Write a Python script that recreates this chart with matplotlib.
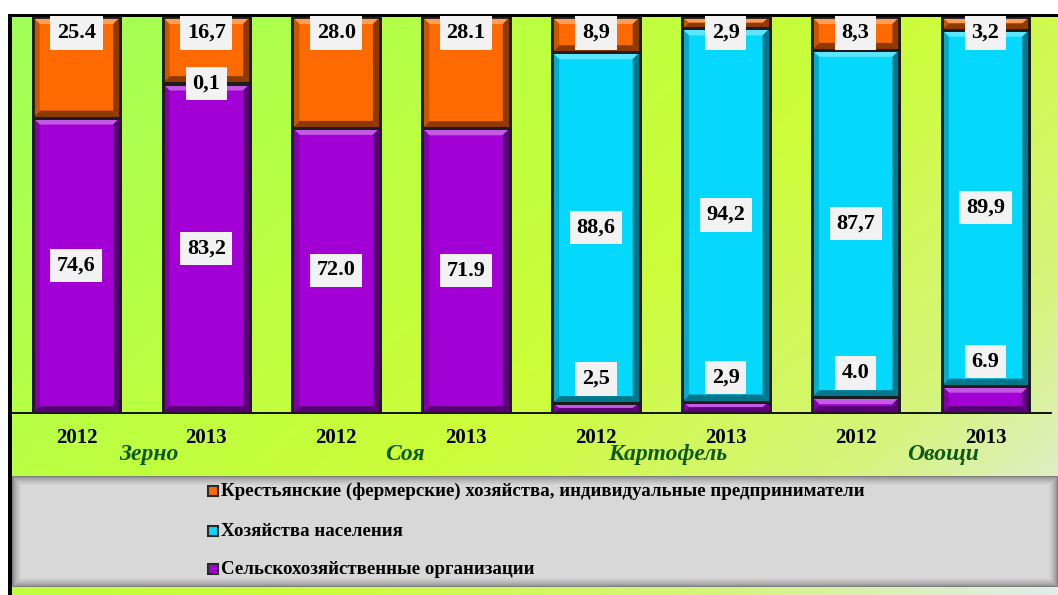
import numpy as np
import matplotlib
matplotlib.use("Agg")
import matplotlib.pyplot as plt
from matplotlib import patches
from matplotlib.colors import LinearSegmentedColormap, to_rgb

# data
crops = ["Зерно", "Соя", "Картофель", "Овощи"]
years = ["2012", "2013", "2012", "2013", "2012", "2013", "2012", "2013"]
org = [74.6, 83.2, 72.0, 71.9, 2.5, 2.9, 4.0, 6.9]
pop = [0.0, 0.1, 0.0, 0.0, 88.6, 94.2, 87.7, 89.9]
farm = [25.4, 16.7, 28.0, 28.1, 8.9, 2.9, 8.3, 3.2]
org_lbl = ["74,6", "83,2", "72.0", "71.9", "2,5", "2,9", "4.0", "6.9"]
pop_lbl = [None, "0,1", None, None, "88,6", "94,2", "87,7", "89,9"]
farm_lbl = ["25.4", "16,7", "28.0", "28.1", "8,9", "2,9", "8,3", "3,2"]
names = ["Крестьянские (фермерские) хозяйства, индивидуальные предприниматели",
         "Хозяйства населения",
         "Сельскохозяйственные организации"]

C_FARM, C_POP, C_ORG = "#ff6a00", "#04d8fc", "#a300d6"
crop_shift = [0.06, 0.03, 0.05, 0.17]  # hand placed category captions

W, H = 1058, 595
SERIF = ["Liberation Serif", "DejaVu Serif"]
fig = plt.figure(figsize=(W / 100, H / 100), dpi=100)

# background gradient
bg = fig.add_axes([0, 0, 1, 1])
bg.set_axis_off()
xx, yy = np.meshgrid(np.linspace(0, 1, 400), np.linspace(0, 1, 240))
t = np.clip(0.62 * xx + 0.38 * yy, 0, 1)
cmap = LinearSegmentedColormap.from_list("bg", [(0, "#9eff5a"), (0.35, "#bdff40"),
                                                (0.55, "#ccfd38"), (0.8, "#d6f47c"),
                                                (1.0, "#e2ecec")])
bg.imshow(t, cmap=cmap, aspect="auto", extent=[0, 1, 0, 1], origin="upper")
bg.set_xlim(0, 1)
bg.set_ylim(0, 1)
# white margins and black frame
bg.add_patch(patches.Rectangle((0, 1 - 14 / H), 1, 14 / H, color="white", lw=0))
bg.add_patch(patches.Rectangle((0, 0), 8 / W, 1, color="white", lw=0))
bg.add_patch(patches.Rectangle((8 / W, 1 - 17 / H), 1, 3 / H, color="black", lw=0))
bg.add_patch(patches.Rectangle((8 / W, 0), 4 / W, 1 - 14 / H, color="black", lw=0))

# legend panel with shaded border
lg = fig.add_axes([12 / W, 8 / H, (W - 12) / W, 111 / H])
lg.set_axis_off()
lx = np.arange(W - 12)
ly = np.arange(111)
dx = np.minimum(lx, lx[::-1])[None, :]
dy = np.minimum(ly, ly[::-1])[:, None]
d = np.minimum(np.minimum(dx, 40), dy).astype(float)
g = 0.5 + 0.35 * np.clip(d / 9, 0, 1) ** 0.6
lg.imshow(np.dstack([g, g, g]), aspect="auto", extent=[0, 1, 0, 1])
lg.set_xlim(0, 1)
lg.set_ylim(0, 1)

ax = fig.add_axes([11.5 / W, 1 - 413 / H, 1039 / W, 396 / H])
ax.patch.set_alpha(0)
x = np.arange(len(years))
bw = 0.674
ax.set_xlim(-0.5, 7.5)
ax.set_ylim(0, 100)
for s in ["top", "right", "left"]:
    ax.spines[s].set_visible(False)
ax.spines["bottom"].set_linewidth(1.3)
ax.set_xticks([])
ax.set_yticks([])

org_a = np.array(org)
pop_a = np.array(pop)
farm_a = np.array(farm)
layers = [(org_a, np.zeros(8), C_ORG), (pop_a, org_a, C_POP), (farm_a, org_a + pop_a, C_FARM)]
px_x = 129.9
px_y = 3.96


def bevel(x0, y0, w, h, col):
    bx = min(7 / px_x, w / 2)
    by = min(7 / px_y, h / 2)
    x1, y1 = x0 + w, y0 + h
    base = np.array(to_rgb(col))
    light = tuple(base + (1 - base) * 0.35)
    dark = tuple(base * 0.55)
    mid = tuple(base * 0.8)
    polys = [([(x0, y1), (x1, y1), (x1 - bx, y1 - by), (x0 + bx, y1 - by)], light),
             ([(x0, y0), (x1, y0), (x1 - bx, y0 + by), (x0 + bx, y0 + by)], dark),
             ([(x0, y0), (x0 + bx, y0 + by), (x0 + bx, y1 - by), (x0, y1)], mid),
             ([(x1, y0), (x1 - bx, y0 + by), (x1 - bx, y1 - by), (x1, y1)], dark)]
    for pts, c in polys:
        ax.add_patch(patches.Polygon(pts, closed=True, facecolor=c, lw=0, zorder=3))


for vals, bottoms, col in layers:
    bars = ax.bar(x, vals, bw, bottom=bottoms, color=col, edgecolor="#1c1c1c",
                  linewidth=2, zorder=2)
    for r in bars:
        if r.get_height() > 0.5:
            bevel(r.get_x(), r.get_y(), r.get_width(), r.get_height(), col)
    for r in bars:
        ax.add_patch(patches.Rectangle((r.get_x(), r.get_y()), r.get_width(), r.get_height(),
                                       fill=False, edgecolor="#1c1c1c", lw=2, zorder=4))

box = dict(boxstyle="square,pad=0.3", facecolor="#f2f2f2", edgecolor="none")
lbl_kw = dict(ha="center", va="center", fontsize=16, fontweight="bold",
              family=SERIF, bbox=box, zorder=6)
for i in x:
    ax.text(i, 96, farm_lbl[i], **lbl_kw)
    if org[i] > 20:
        ax.text(i, org[i] / 2, org_lbl[i], **lbl_kw)
    else:
        ax.annotate(org_lbl[i], (i, org[i]), xytext=(0, 17.3),
                    textcoords="offset points", **lbl_kw)
    if pop_lbl[i]:
        ax.text(i, org[i] + pop[i] / 2, pop_lbl[i], **lbl_kw)
    ax.text(i, -6.2, years[i], ha="center", va="center", fontsize=15,
            fontweight="bold", family=SERIF, clip_on=False)

for k, name in enumerate(crops):
    ax.text(2 * k + 0.5 + crop_shift[k], -10.6, name, ha="center", va="center",
            fontsize=17, fontweight="bold", style="italic", family=SERIF,
            color="#0d5a16", clip_on=False)

# legend entries
for k, (name, col) in enumerate(zip(names, [C_FARM, C_POP, C_ORG])):
    yc = 1 - [491, 531, 569][k] / H
    fig.patches.append(patches.Rectangle((208 / W, yc - 5 / H), 10 / W, 10 / H,
                                         facecolor=col, edgecolor="#2a2a2a", lw=1.5,
                                         transform=fig.transFigure, zorder=5))
    fig.text(221 / W, yc, name, ha="left", va="center", fontsize=13.6,
             fontweight="bold", family=SERIF, zorder=5)

fig.savefig("out.png", dpi=100)
